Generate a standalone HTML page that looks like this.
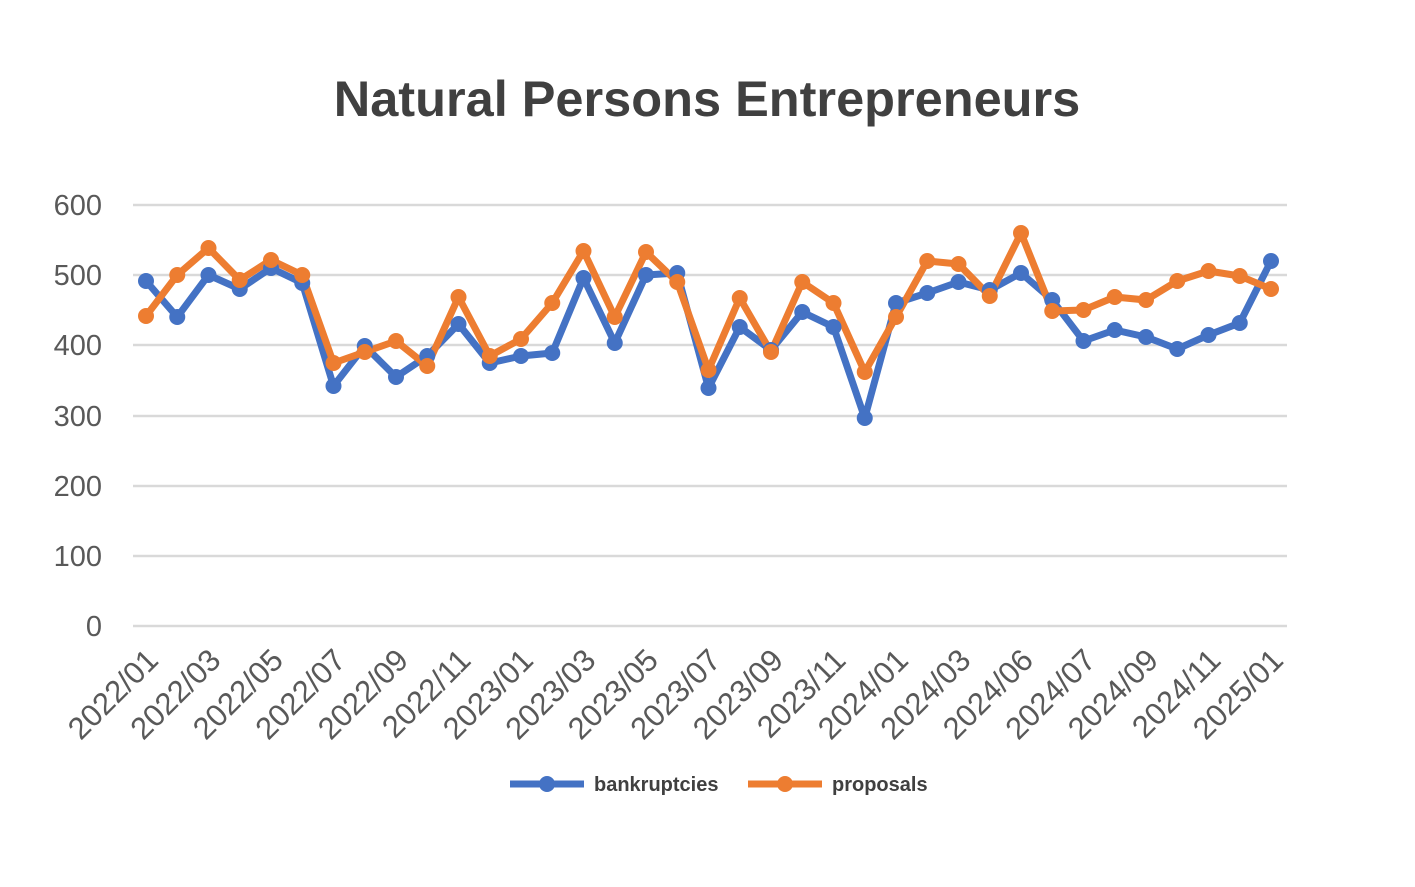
<!DOCTYPE html>
<html><head><meta charset="utf-8"><style>
body{margin:0;background:#fff;width:1415px;height:882px;overflow:hidden}
</style></head><body>
<svg width="1415" height="882" xmlns="http://www.w3.org/2000/svg" font-family="'Liberation Sans',sans-serif">
<rect width="1415" height="882" fill="#fff"/>
<text x="707" y="116" text-anchor="middle" font-size="50.5" font-weight="bold" fill="#404040">Natural Persons Entrepreneurs</text>
<g stroke="#d9d9d9" stroke-width="2.5">
<line x1="133" x2="1287" y1="205" y2="205"/><line x1="133" x2="1287" y1="275" y2="275"/>
<line x1="133" x2="1287" y1="345" y2="345"/><line x1="133" x2="1287" y1="416" y2="416"/>
<line x1="133" x2="1287" y1="486" y2="486"/><line x1="133" x2="1287" y1="556" y2="556"/>
<line x1="133" x2="1287" y1="626" y2="626"/>
</g>
<g font-size="29" fill="#595959" text-anchor="end">
<text x="102" y="215">600</text><text x="102" y="285">500</text><text x="102" y="355">400</text>
<text x="102" y="426">300</text><text x="102" y="496">200</text><text x="102" y="566">100</text>
<text x="102" y="636">0</text>
</g>
<g font-size="31" fill="#595959" text-anchor="end" id="xl"></g>
<polyline id="b" fill="none" stroke="#4472C4" stroke-width="7" stroke-linejoin="round"/>
<polyline id="o" fill="none" stroke="#ED7D31" stroke-width="7" stroke-linejoin="round"/>
<g id="bm" fill="#4472C4"></g><g id="om" fill="#ED7D31"></g>
<line x1="510" x2="584" y1="784" y2="784" stroke="#4472C4" stroke-width="7"/><circle cx="547" cy="784" r="8" fill="#4472C4"/>
<text x="594" y="791" font-size="20" font-weight="bold" fill="#404040">bankruptcies</text>
<line x1="748" x2="822" y1="784" y2="784" stroke="#ED7D31" stroke-width="7"/><circle cx="785" cy="784" r="8" fill="#ED7D31"/>
<text x="832" y="791" font-size="20" font-weight="bold" fill="#404040">proposals</text>
<script>
var B=[281,317,275,289,268,283,386,346,377,356,324,363,356,353,278,343,275,273,388,327,350,312,327,418,303,293,282,290,273,300,341,330,337,349,335,323,261];
var O=[316,275,248,280,260,275,363,352,341,366,297,356,339,303,251,317,252,282,370,298,352,282,303,372,317,261,264,296,233,311,310,297,300,281,271,276,289];
var L=["2022/01","2022/03","2022/05","2022/07","2022/09","2022/11","2023/01","2023/03","2023/05","2023/07","2023/09","2023/11","2024/01","2024/03","2024/06","2024/07","2024/09","2024/11","2025/01"];
var ns="http://www.w3.org/2000/svg";
function X(i){return 146+i*31.25}
function draw(d,pl,g){var p=[];d.forEach(function(y,i){p.push(X(i)+","+y);var c=document.createElementNS(ns,"circle");c.setAttribute("cx",X(i));c.setAttribute("cy",y);c.setAttribute("r",8);document.getElementById(g).appendChild(c)});document.getElementById(pl).setAttribute("points",p.join(" "))}
draw(B,"b","bm");draw(O,"o","om");
L.forEach(function(t,k){var x=X(k*2)+14,y=662;var e=document.createElementNS(ns,"text");e.setAttribute("x",x);e.setAttribute("y",y);e.setAttribute("transform","rotate(-45 "+x+" "+y+")");e.textContent=t;document.getElementById("xl").appendChild(e)});
</script>
</svg>
</body></html>
